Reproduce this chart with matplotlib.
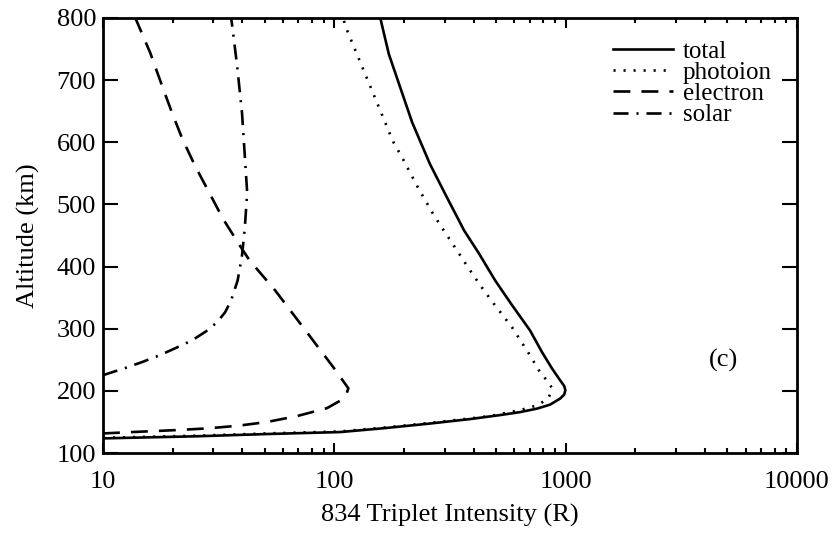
import numpy as np
import matplotlib
matplotlib.use("Agg")
import matplotlib.pyplot as plt

# altitude profiles (km) and 834 triplet intensities (R)
alt_total = [123.5, 127, 130.5, 133.7, 140.1, 147.4, 154.6, 161, 165.8, 171.4, 177.8,
             187.5, 194, 201, 208, 217, 236, 262, 297, 340, 378, 421, 458, 511,
             565, 632, 742, 800]
int_total = [10, 26, 51, 106, 166, 259, 386, 520, 635, 752, 856,
             946, 985, 997, 985, 946, 873, 791, 702, 581, 495, 422, 364, 307,
             259, 217, 172, 158]

alt_photo = [124.5, 128, 131.5, 134.7, 141.1, 148.4, 155.6, 159.5, 169, 177, 188, 198,
             204, 212, 230, 262, 302, 342, 370, 399, 426, 455, 485, 527, 573, 602,
             651, 782, 800]
int_photo = [10, 26, 51, 106, 166, 259, 386, 471, 635, 760, 839, 868,
             873, 850, 775, 688, 587, 485, 427, 378, 339, 301, 267, 230, 198, 179,
             158, 113, 109]

alt_elec = [131.5, 134.5, 136.9, 139.6, 143.7, 149.8, 159.4, 172.2, 185, 196, 204, 238,
            313, 362, 410, 434, 477, 522, 562, 606, 647, 691, 744, 800]
int_elec = [10, 14.9, 20.9, 28.2, 38, 51, 69, 93, 107, 113, 115, 99,
            69.7, 55.4, 43, 39, 33, 28.5, 25, 22, 19.9, 18, 16, 13.8]

alt_solar = [225.2, 236.4, 246.1, 257.3, 268.5, 281.4, 295.8, 310.3, 326.3, 345.6,
             377.7, 418, 461, 519, 573, 647, 723, 787, 800]
int_solar = [10, 12.4, 14.7, 17.6, 20.5, 24.3, 27.9, 31.1, 33.7, 35.8,
             38.2, 39.9, 41, 42, 41.1, 39.9, 38, 36.2, 35.8]

plt.rcParams['font.family'] = ['Liberation Serif', 'DejaVu Serif']
fs = 19

fig = plt.figure(figsize=(8.36, 5.33), dpi=100)
ax = fig.add_axes([103 / 836, 1 - 453 / 533, 694 / 836, 435 / 533])

lw = 1.9
ax.plot(int_total, alt_total, color='black', lw=lw, ls='-', label='total')
ax.plot(int_photo, alt_photo, color='black', lw=lw, ls=(0, (0.8, 3)), label='photoion')
ax.plot(int_elec, alt_elec, color='black', lw=lw, ls=(0, (6.4, 4.2)), label='electron')
ax.plot(int_solar, alt_solar, color='black', lw=lw, ls=(0, (5.7, 3, 0.8, 3)), label='solar')

ax.set_xscale('log')
ax.set_xlim(10, 10000)
ax.set_ylim(100, 800)
ax.set_yticks(range(100, 801, 100))
ax.set_xticks([10, 100, 1000, 10000])
ax.set_xticklabels(['10', '100', '1000', '10000'])
ax.minorticks_on()
ax.yaxis.set_minor_locator(matplotlib.ticker.NullLocator())

for s in ax.spines.values():
    s.set_linewidth(2.0)

ax.tick_params(which='both', direction='in', top=True, right=True, width=1.5,
               labelsize=fs)
ax.tick_params(axis='y', which='major', length=11, pad=5)
ax.tick_params(axis='x', which='major', length=7, pad=13)
ax.tick_params(axis='x', which='minor', length=3.5)

ax.set_xlabel('834 Triplet Intensity (R)', fontsize=fs, labelpad=8)
ax.set_ylabel('Altitude (km)', fontsize=fs, labelpad=12)

ax.text(4790, 249, '(c)', fontsize=fs, ha='center', va='center')

ax.legend(loc='upper left', bbox_to_anchor=(613 / 836, 1 - 40 / 533),
          bbox_transform=fig.transFigure, frameon=False, fontsize=18,
          handlelength=2.4, handletextpad=0.4, labelspacing=-0.05,
          borderpad=0, borderaxespad=0)

fig.savefig('out.png', dpi=100)
